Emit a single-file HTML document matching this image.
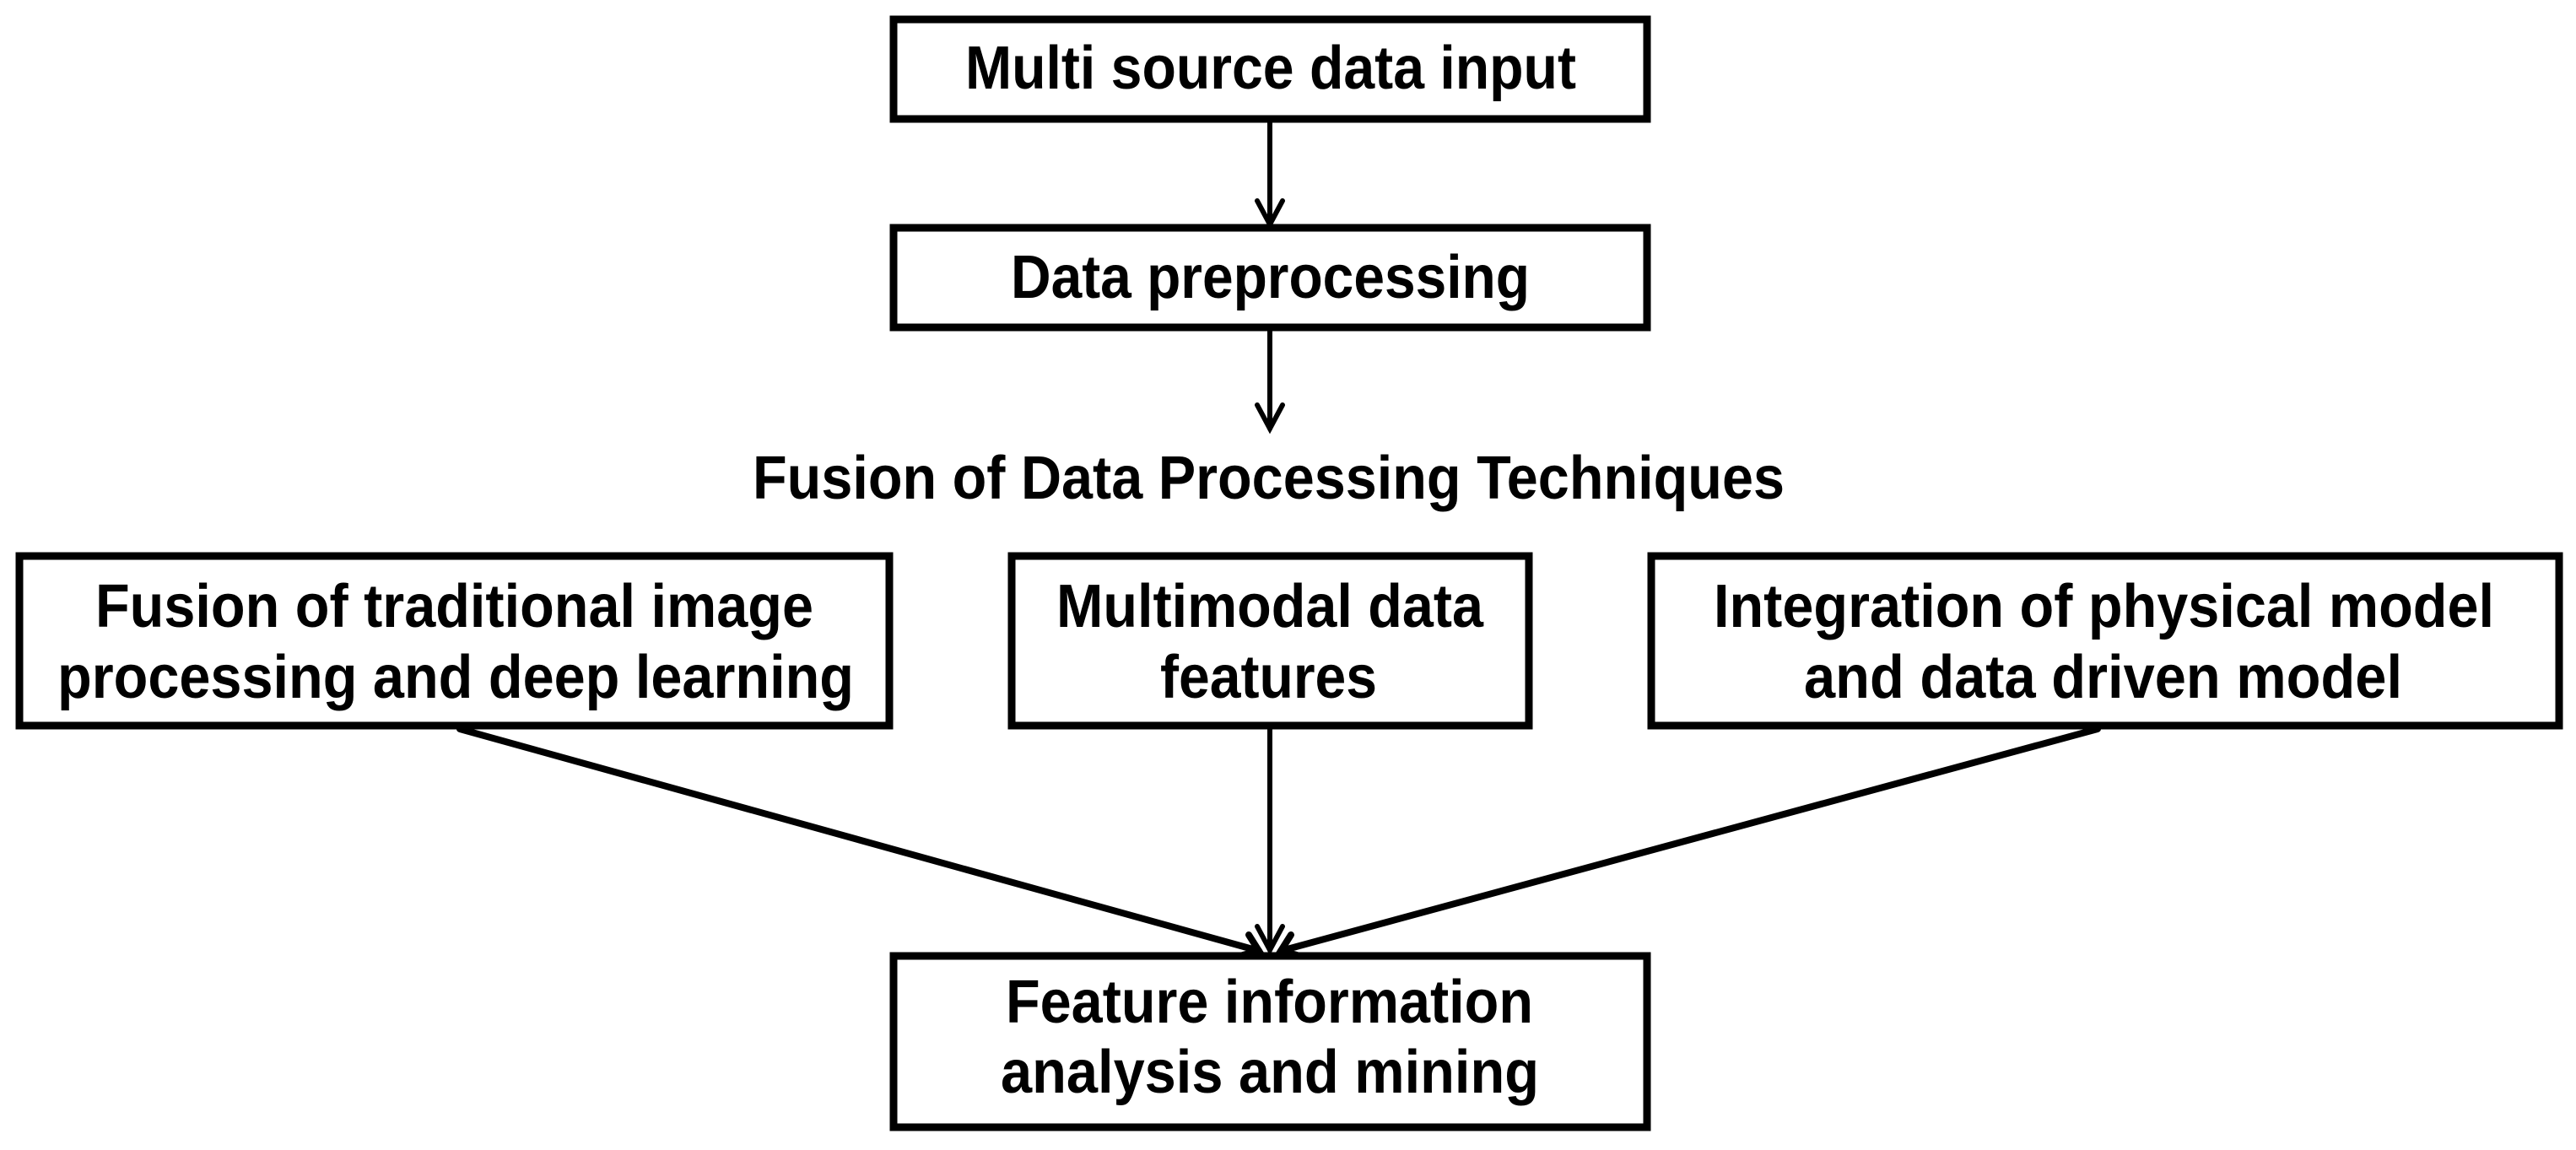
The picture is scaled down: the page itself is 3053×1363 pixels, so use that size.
<!DOCTYPE html>
<html><head><meta charset="utf-8"><style>
html,body{margin:0;padding:0;background:#fff;}
svg{display:block;}
text{font-family:"Liberation Sans",Arial,sans-serif;font-weight:bold;font-size:72px;fill:#000;}
</style></head><body>
<svg width="3053" height="1363" viewBox="0 0 3053 1363" xmlns="http://www.w3.org/2000/svg">
<g fill="none" stroke="#000" stroke-width="9">
<rect x="1059" y="23" width="893" height="118"/>
<rect x="1059" y="270" width="893" height="118"/>
<rect x="23" y="659" width="1031" height="201"/>
<rect x="1199" y="659" width="613" height="201"/>
<rect x="1957" y="659" width="1076" height="201"/>
<rect x="1059" y="1133" width="893" height="203"/>
</g>
<g fill="none" stroke="#000" stroke-width="6" stroke-linecap="round">
<line x1="1505" y1="141" x2="1505" y2="266"/>
<polyline points="1490,238 1505,266 1520,238"/>
<line x1="1505" y1="388" x2="1505" y2="508"/>
<polyline points="1490,480 1505,508 1520,480"/>
<line x1="1505" y1="862" x2="1505" y2="1126"/>
<polyline points="1490,1098 1505,1126 1520,1098"/>
</g>
<g fill="none" stroke="#000" stroke-width="8" stroke-linecap="round">
<line x1="545" y1="864" x2="1492" y2="1127"/>
<polyline points="1480,1108 1492,1127 1473,1132"/>
<line x1="2486" y1="864" x2="1518" y2="1127"/>
<polyline points="1530,1108 1518,1127 1537,1132"/>
</g>
<text x="1144" y="105" textLength="724" lengthAdjust="spacingAndGlyphs">Multi source data input</text>
<text x="1198" y="353" textLength="615" lengthAdjust="spacingAndGlyphs">Data preprocessing</text>
<text x="892" y="591" textLength="1223" lengthAdjust="spacingAndGlyphs">Fusion of Data Processing Techniques</text>
<text x="113" y="743" textLength="851" lengthAdjust="spacingAndGlyphs">Fusion of traditional image</text>
<text x="68" y="827" textLength="944" lengthAdjust="spacingAndGlyphs">processing and deep learning</text>
<text x="1252" y="743" textLength="506" lengthAdjust="spacingAndGlyphs">Multimodal data</text>
<text x="1375" y="827" textLength="257" lengthAdjust="spacingAndGlyphs">features</text>
<text x="2031" y="743" textLength="925" lengthAdjust="spacingAndGlyphs">Integration of physical model</text>
<text x="2138" y="827" textLength="709" lengthAdjust="spacingAndGlyphs">and data driven model</text>
<text x="1192" y="1212" textLength="625" lengthAdjust="spacingAndGlyphs">Feature information</text>
<text x="1186" y="1295" textLength="638" lengthAdjust="spacingAndGlyphs">analysis and mining</text>
</svg>
</body></html>
